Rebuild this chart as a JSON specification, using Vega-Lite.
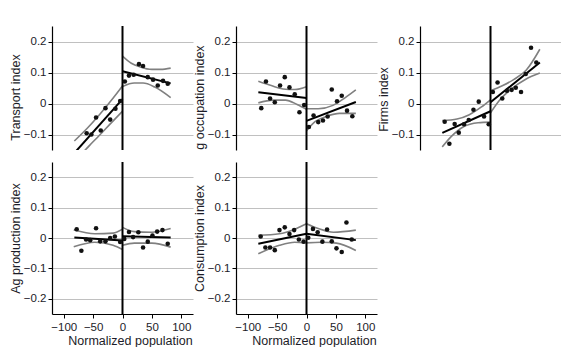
{
  "$schema": "https://vega.github.io/schema/vega-lite/v6.json",
  "padding": {"left": 9, "top": 25, "right": 0, "bottom": 0},
  "datasets": {
    "pts": [
      {"p": "P1", "x": -61, "y": -0.096}, {"p": "P1", "x": -53, "y": -0.100}, {"p": "P1", "x": -45, "y": -0.045}, {"p": "P1", "x": -37, "y": -0.087}, {"p": "P1", "x": -29, "y": -0.015}, {"p": "P1", "x": -21, "y": -0.052}, {"p": "P1", "x": -12, "y": -0.017}, {"p": "P1", "x": -4, "y": 0.008},
      {"p": "P1", "x": 4, "y": 0.071}, {"p": "P1", "x": 11, "y": 0.090}, {"p": "P1", "x": 19, "y": 0.093}, {"p": "P1", "x": 28, "y": 0.127}, {"p": "P1", "x": 35, "y": 0.121}, {"p": "P1", "x": 43, "y": 0.085}, {"p": "P1", "x": 52, "y": 0.077}, {"p": "P1", "x": 60, "y": 0.058}, {"p": "P1", "x": 69, "y": 0.073}, {"p": "P1", "x": 77, "y": 0.064},
      {"p": "P2", "x": -77, "y": -0.015}, {"p": "P2", "x": -69, "y": 0.071}, {"p": "P2", "x": -62, "y": 0.016}, {"p": "P2", "x": -54, "y": 0.004}, {"p": "P2", "x": -45, "y": 0.058}, {"p": "P2", "x": -37, "y": 0.085}, {"p": "P2", "x": -29, "y": 0.052}, {"p": "P2", "x": -20, "y": 0.030}, {"p": "P2", "x": -12, "y": -0.028}, {"p": "P2", "x": -4, "y": -0.005},
      {"p": "P2", "x": 4, "y": -0.076}, {"p": "P2", "x": 12, "y": -0.039}, {"p": "P2", "x": 20, "y": -0.060}, {"p": "P2", "x": 28, "y": -0.055}, {"p": "P2", "x": 36, "y": -0.042}, {"p": "P2", "x": 43, "y": 0.045}, {"p": "P2", "x": 52, "y": 0.007}, {"p": "P2", "x": 60, "y": 0.025}, {"p": "P2", "x": 69, "y": -0.023}, {"p": "P2", "x": 78, "y": -0.041},
      {"p": "P3", "x": -78, "y": -0.059}, {"p": "P3", "x": -70, "y": -0.130}, {"p": "P3", "x": -61, "y": -0.066}, {"p": "P3", "x": -54, "y": -0.094}, {"p": "P3", "x": -45, "y": -0.067}, {"p": "P3", "x": -37, "y": -0.053}, {"p": "P3", "x": -29, "y": -0.020}, {"p": "P3", "x": -20, "y": 0.006}, {"p": "P3", "x": -11, "y": -0.042}, {"p": "P3", "x": -3, "y": -0.067},
      {"p": "P3", "x": 4, "y": 0.037}, {"p": "P3", "x": 12, "y": 0.068}, {"p": "P3", "x": 20, "y": 0.016}, {"p": "P3", "x": 28, "y": 0.041}, {"p": "P3", "x": 36, "y": 0.044}, {"p": "P3", "x": 43, "y": 0.051}, {"p": "P3", "x": 52, "y": 0.037}, {"p": "P3", "x": 60, "y": 0.095}, {"p": "P3", "x": 69, "y": 0.180}, {"p": "P3", "x": 78, "y": 0.132},
      {"p": "P4", "x": -78, "y": 0.029}, {"p": "P4", "x": -70, "y": -0.042}, {"p": "P4", "x": -62, "y": -0.005}, {"p": "P4", "x": -55, "y": -0.007}, {"p": "P4", "x": -45, "y": 0.032}, {"p": "P4", "x": -38, "y": -0.011}, {"p": "P4", "x": -29, "y": -0.011}, {"p": "P4", "x": -21, "y": 0.0}, {"p": "P4", "x": -13, "y": 0.005}, {"p": "P4", "x": -4, "y": -0.013},
      {"p": "P4", "x": 3, "y": -0.003}, {"p": "P4", "x": 11, "y": 0.020}, {"p": "P4", "x": 18, "y": 0.003}, {"p": "P4", "x": 27, "y": 0.019}, {"p": "P4", "x": 35, "y": -0.031}, {"p": "P4", "x": 43, "y": -0.012}, {"p": "P4", "x": 51, "y": 0.008}, {"p": "P4", "x": 59, "y": 0.021}, {"p": "P4", "x": 68, "y": 0.026}, {"p": "P4", "x": 77, "y": -0.019},
      {"p": "P5", "x": -78, "y": 0.005}, {"p": "P5", "x": -70, "y": -0.031}, {"p": "P5", "x": -62, "y": -0.031}, {"p": "P5", "x": -54, "y": -0.040}, {"p": "P5", "x": -46, "y": 0.026}, {"p": "P5", "x": -37, "y": 0.035}, {"p": "P5", "x": -29, "y": 0.013}, {"p": "P5", "x": -21, "y": 0.026}, {"p": "P5", "x": -13, "y": -0.005}, {"p": "P5", "x": -5, "y": -0.012},
      {"p": "P5", "x": 3, "y": 0.001}, {"p": "P5", "x": 11, "y": 0.030}, {"p": "P5", "x": 19, "y": 0.019}, {"p": "P5", "x": 27, "y": -0.012}, {"p": "P5", "x": 35, "y": 0.028}, {"p": "P5", "x": 43, "y": -0.011}, {"p": "P5", "x": 51, "y": -0.034}, {"p": "P5", "x": 60, "y": -0.046}, {"p": "P5", "x": 68, "y": 0.051}, {"p": "P5", "x": 77, "y": -0.005}
    ],
    "fit": [
      {"p": "P1", "g": "L", "x": -82, "y": -0.160}, {"p": "P1", "g": "L", "x": 0, "y": 0.014},
      {"p": "P1", "g": "R", "x": 0, "y": 0.104}, {"p": "P1", "g": "R", "x": 82, "y": 0.065},
      {"p": "P2", "g": "L", "x": -82, "y": 0.036}, {"p": "P2", "g": "L", "x": 0, "y": 0.018},
      {"p": "P2", "g": "R", "x": 0, "y": -0.056}, {"p": "P2", "g": "R", "x": 84, "y": 0.005},
      {"p": "P3", "g": "L", "x": -82, "y": -0.095}, {"p": "P3", "g": "L", "x": 0, "y": -0.025},
      {"p": "P3", "g": "R", "x": 0, "y": 0.004}, {"p": "P3", "g": "R", "x": 84, "y": 0.132},
      {"p": "P4", "g": "L", "x": -82, "y": 0.002}, {"p": "P4", "g": "L", "x": 0, "y": -0.008},
      {"p": "P4", "g": "R", "x": 0, "y": 0.006}, {"p": "P4", "g": "R", "x": 82, "y": 0.002},
      {"p": "P5", "g": "L", "x": -82, "y": -0.019}, {"p": "P5", "g": "L", "x": 0, "y": 0.014},
      {"p": "P5", "g": "R", "x": 0, "y": 0.014}, {"p": "P5", "g": "R", "x": 84, "y": -0.007}
    ],
    "ci": [
      {"p": "P1", "g": "LU", "x": -82, "y": -0.121}, {"p": "P1", "g": "LU", "x": -60, "y": -0.080}, {"p": "P1", "g": "LU", "x": -40, "y": -0.038}, {"p": "P1", "g": "LU", "x": -20, "y": 0.008}, {"p": "P1", "g": "LU", "x": 0, "y": 0.057},
      {"p": "P1", "g": "LL", "x": -82, "y": -0.188}, {"p": "P1", "g": "LL", "x": -56, "y": -0.135}, {"p": "P1", "g": "LL", "x": -40, "y": -0.104}, {"p": "P1", "g": "LL", "x": -20, "y": -0.064}, {"p": "P1", "g": "LL", "x": 0, "y": -0.025},
      {"p": "P1", "g": "RU", "x": 0, "y": 0.153}, {"p": "P1", "g": "RU", "x": 15, "y": 0.130}, {"p": "P1", "g": "RU", "x": 30, "y": 0.118}, {"p": "P1", "g": "RU", "x": 50, "y": 0.110}, {"p": "P1", "g": "RU", "x": 65, "y": 0.110}, {"p": "P1", "g": "RU", "x": 82, "y": 0.114},
      {"p": "P1", "g": "RL", "x": 0, "y": 0.055}, {"p": "P1", "g": "RL", "x": 20, "y": 0.066}, {"p": "P1", "g": "RL", "x": 35, "y": 0.066}, {"p": "P1", "g": "RL", "x": 55, "y": 0.053}, {"p": "P1", "g": "RL", "x": 82, "y": 0.019},
      {"p": "P2", "g": "LU", "x": -82, "y": 0.072}, {"p": "P2", "g": "LU", "x": -60, "y": 0.058}, {"p": "P2", "g": "LU", "x": -40, "y": 0.047}, {"p": "P2", "g": "LU", "x": -20, "y": 0.045}, {"p": "P2", "g": "LU", "x": 0, "y": 0.054},
      {"p": "P2", "g": "LL", "x": -82, "y": 0.002}, {"p": "P2", "g": "LL", "x": -57, "y": 0.011}, {"p": "P2", "g": "LL", "x": -36, "y": 0.011}, {"p": "P2", "g": "LL", "x": -16, "y": -0.003}, {"p": "P2", "g": "LL", "x": 0, "y": -0.019},
      {"p": "P2", "g": "RU", "x": 0, "y": -0.017}, {"p": "P2", "g": "RU", "x": 20, "y": -0.017}, {"p": "P2", "g": "RU", "x": 45, "y": -0.006}, {"p": "P2", "g": "RU", "x": 66, "y": 0.019}, {"p": "P2", "g": "RU", "x": 84, "y": 0.044},
      {"p": "P2", "g": "RL", "x": 0, "y": -0.088}, {"p": "P2", "g": "RL", "x": 15, "y": -0.058}, {"p": "P2", "g": "RL", "x": 35, "y": -0.041}, {"p": "P2", "g": "RL", "x": 56, "y": -0.032}, {"p": "P2", "g": "RL", "x": 84, "y": -0.032},
      {"p": "P3", "g": "LU", "x": -82, "y": -0.055}, {"p": "P3", "g": "LU", "x": -57, "y": -0.050}, {"p": "P3", "g": "LU", "x": -36, "y": -0.036}, {"p": "P3", "g": "LU", "x": -16, "y": -0.012}, {"p": "P3", "g": "LU", "x": 0, "y": 0.012},
      {"p": "P3", "g": "LL", "x": -82, "y": -0.140}, {"p": "P3", "g": "LL", "x": -67, "y": -0.107}, {"p": "P3", "g": "LL", "x": -46, "y": -0.075}, {"p": "P3", "g": "LL", "x": -21, "y": -0.062}, {"p": "P3", "g": "LL", "x": 0, "y": -0.060},
      {"p": "P3", "g": "RU", "x": 0, "y": 0.041}, {"p": "P3", "g": "RU", "x": 20, "y": 0.057}, {"p": "P3", "g": "RU", "x": 40, "y": 0.078}, {"p": "P3", "g": "RU", "x": 61, "y": 0.108}, {"p": "P3", "g": "RU", "x": 84, "y": 0.175},
      {"p": "P3", "g": "RL", "x": 0, "y": -0.030}, {"p": "P3", "g": "RL", "x": 15, "y": 0.010}, {"p": "P3", "g": "RL", "x": 35, "y": 0.046}, {"p": "P3", "g": "RL", "x": 60, "y": 0.078}, {"p": "P3", "g": "RL", "x": 84, "y": 0.098},
      {"p": "P4", "g": "LU", "x": -83, "y": 0.026}, {"p": "P4", "g": "LU", "x": -47, "y": 0.014}, {"p": "P4", "g": "LU", "x": -16, "y": 0.016}, {"p": "P4", "g": "LU", "x": 0, "y": 0.029},
      {"p": "P4", "g": "LL", "x": -83, "y": -0.029}, {"p": "P4", "g": "LL", "x": -47, "y": -0.014}, {"p": "P4", "g": "LL", "x": -16, "y": -0.024}, {"p": "P4", "g": "LL", "x": 0, "y": -0.038},
      {"p": "P4", "g": "RU", "x": 0, "y": 0.035}, {"p": "P4", "g": "RU", "x": 20, "y": 0.021}, {"p": "P4", "g": "RU", "x": 50, "y": 0.019}, {"p": "P4", "g": "RU", "x": 82, "y": 0.031},
      {"p": "P4", "g": "RL", "x": 0, "y": -0.024}, {"p": "P4", "g": "RL", "x": 20, "y": -0.017}, {"p": "P4", "g": "RL", "x": 50, "y": -0.017}, {"p": "P4", "g": "RL", "x": 82, "y": -0.030},
      {"p": "P5", "g": "LU", "x": -82, "y": 0.009}, {"p": "P5", "g": "LU", "x": -46, "y": 0.014}, {"p": "P5", "g": "LU", "x": -20, "y": 0.029}, {"p": "P5", "g": "LU", "x": 0, "y": 0.047},
      {"p": "P5", "g": "LL", "x": -82, "y": -0.052}, {"p": "P5", "g": "LL", "x": -46, "y": -0.024}, {"p": "P5", "g": "LL", "x": -20, "y": -0.014}, {"p": "P5", "g": "LL", "x": 0, "y": -0.016},
      {"p": "P5", "g": "RU", "x": 0, "y": 0.047}, {"p": "P5", "g": "RU", "x": 20, "y": 0.031}, {"p": "P5", "g": "RU", "x": 46, "y": 0.019}, {"p": "P5", "g": "RU", "x": 84, "y": 0.026},
      {"p": "P5", "g": "RL", "x": 0, "y": -0.016}, {"p": "P5", "g": "RL", "x": 25, "y": -0.014}, {"p": "P5", "g": "RL", "x": 51, "y": -0.017}, {"p": "P5", "g": "RL", "x": 84, "y": -0.041}
    ]
  },
  "vconcat": [
    {
      "spacing": 0,
      "hconcat": [
        {
          "width": 141, "height": 124,
          "layer": [
            {"data": {"name": "ci"}, "transform": [{"filter": "datum.p == 'P1'"}],
             "mark": {"type": "line", "color": "#808080", "strokeWidth": 1.6, "interpolate": "monotone", "clip": true},
             "encoding": {
               "x": {"field": "x", "type": "quantitative", "scale": {"domain": [-108, 108]}, "axis": null},
               "y": {"field": "y", "type": "quantitative", "scale": {"domain": [-0.135, 0.22]}, "axis": {"title": "Transport index", "values": [-0.1, 0, 0.1, 0.2], "tickCount": 10, "format": ".1~f", "titleY": 71}},
               "detail": {"field": "g"}}},
            {"data": {"name": "fit"}, "transform": [{"filter": "datum.p == 'P1'"}],
             "mark": {"type": "line", "color": "#000", "strokeWidth": 2, "clip": true},
             "encoding": {
               "x": {"field": "x", "type": "quantitative", "axis": null},
               "y": {"field": "y", "type": "quantitative"},
               "detail": {"field": "g"}}},
            {"data": {"values": [{}]},
             "mark": {"type": "rule", "color": "#000", "strokeWidth": 2},
             "encoding": {"x": {"datum": 0, "axis": null}}},
            {"data": {"name": "pts"}, "transform": [{"filter": "datum.p == 'P1'"}],
             "mark": {"type": "circle", "color": "#111", "opacity": 1, "size": 21, "clip": true},
             "encoding": {
               "x": {"field": "x", "type": "quantitative", "axis": null},
               "y": {"field": "y", "type": "quantitative"}}}
          ]
        },
        {
          "width": 141, "height": 124,
          "layer": [
            {"data": {"name": "ci"}, "transform": [{"filter": "datum.p == 'P2'"}],
             "mark": {"type": "line", "color": "#808080", "strokeWidth": 1.6, "interpolate": "monotone", "clip": true},
             "encoding": {
               "x": {"field": "x", "type": "quantitative", "scale": {"domain": [-108, 108]}, "axis": null},
               "y": {"field": "y", "type": "quantitative", "scale": {"domain": [-0.135, 0.22]}, "axis": {"title": "g occupation index", "values": [-0.1, 0, 0.1, 0.2], "tickCount": 10, "format": ".1~f", "titleY": 71}},
               "detail": {"field": "g"}}},
            {"data": {"name": "fit"}, "transform": [{"filter": "datum.p == 'P2'"}],
             "mark": {"type": "line", "color": "#000", "strokeWidth": 2, "clip": true},
             "encoding": {
               "x": {"field": "x", "type": "quantitative", "axis": null},
               "y": {"field": "y", "type": "quantitative"},
               "detail": {"field": "g"}}},
            {"data": {"values": [{}]},
             "mark": {"type": "rule", "color": "#000", "strokeWidth": 2},
             "encoding": {"x": {"datum": 0, "axis": null}}},
            {"data": {"name": "pts"}, "transform": [{"filter": "datum.p == 'P2'"}],
             "mark": {"type": "circle", "color": "#111", "opacity": 1, "size": 21, "clip": true},
             "encoding": {
               "x": {"field": "x", "type": "quantitative", "axis": null},
               "y": {"field": "y", "type": "quantitative"}}}
          ]
        },
        {
          "width": 141, "height": 124,
          "layer": [
            {"data": {"name": "ci"}, "transform": [{"filter": "datum.p == 'P3'"}],
             "mark": {"type": "line", "color": "#808080", "strokeWidth": 1.6, "interpolate": "monotone", "clip": true},
             "encoding": {
               "x": {"field": "x", "type": "quantitative", "scale": {"domain": [-108, 108]}, "axis": null},
               "y": {"field": "y", "type": "quantitative", "scale": {"domain": [-0.135, 0.22]}, "axis": {"title": "Firms index", "values": [-0.1, 0, 0.1, 0.2], "tickCount": 10, "format": ".1~f", "titleY": 73}},
               "detail": {"field": "g"}}},
            {"data": {"name": "fit"}, "transform": [{"filter": "datum.p == 'P3'"}],
             "mark": {"type": "line", "color": "#000", "strokeWidth": 2, "clip": true},
             "encoding": {
               "x": {"field": "x", "type": "quantitative", "axis": null},
               "y": {"field": "y", "type": "quantitative"},
               "detail": {"field": "g"}}},
            {"data": {"values": [{}]},
             "mark": {"type": "rule", "color": "#000", "strokeWidth": 2},
             "encoding": {"x": {"datum": 0, "axis": null}}},
            {"data": {"name": "pts"}, "transform": [{"filter": "datum.p == 'P3'"}],
             "mark": {"type": "circle", "color": "#111", "opacity": 1, "size": 21, "clip": true},
             "encoding": {
               "x": {"field": "x", "type": "quantitative", "axis": null},
               "y": {"field": "y", "type": "quantitative"}}}
          ]
        }
      ]
    },
    {
      "spacing": 0,
      "hconcat": [
        {
          "width": 141, "height": 152,
          "layer": [
            {"data": {"name": "ci"}, "transform": [{"filter": "datum.p == 'P4'"}],
             "mark": {"type": "line", "color": "#808080", "strokeWidth": 1.6, "interpolate": "monotone", "clip": true},
             "encoding": {
               "x": {"field": "x", "type": "quantitative", "scale": {"domain": [-108, 108]}, "axis": {"title": "Normalized population", "values": [-100, -50, 0, 50, 100], "tickCount": 10, "titleX": 78}},
               "y": {"field": "y", "type": "quantitative", "scale": {"domain": [-0.218, 0.218]}, "axis": {"title": "Ag production index", "values": [-0.2, -0.1, 0, 0.1, 0.2], "tickCount": 10, "format": ".1~f"}},
               "detail": {"field": "g"}}},
            {"data": {"name": "fit"}, "transform": [{"filter": "datum.p == 'P4'"}],
             "mark": {"type": "line", "color": "#000", "strokeWidth": 2, "clip": true},
             "encoding": {
               "x": {"field": "x", "type": "quantitative"},
               "y": {"field": "y", "type": "quantitative"},
               "detail": {"field": "g"}}},
            {"data": {"values": [{}]},
             "mark": {"type": "rule", "color": "#000", "strokeWidth": 2},
             "encoding": {"x": {"datum": 0}}},
            {"data": {"name": "pts"}, "transform": [{"filter": "datum.p == 'P4'"}],
             "mark": {"type": "circle", "color": "#111", "opacity": 1, "size": 21, "clip": true},
             "encoding": {
               "x": {"field": "x", "type": "quantitative"},
               "y": {"field": "y", "type": "quantitative"}}}
          ]
        },
        {
          "width": 141, "height": 152,
          "layer": [
            {"data": {"name": "ci"}, "transform": [{"filter": "datum.p == 'P5'"}],
             "mark": {"type": "line", "color": "#808080", "strokeWidth": 1.6, "interpolate": "monotone", "clip": true},
             "encoding": {
               "x": {"field": "x", "type": "quantitative", "scale": {"domain": [-108, 108]}, "axis": {"title": "Normalized population", "values": [-100, -50, 0, 50, 100], "tickCount": 10, "titleX": 78}},
               "y": {"field": "y", "type": "quantitative", "scale": {"domain": [-0.218, 0.218]}, "axis": {"title": "Consumption index", "values": [-0.2, -0.1, 0, 0.1, 0.2], "tickCount": 10, "format": ".1~f"}},
               "detail": {"field": "g"}}},
            {"data": {"name": "fit"}, "transform": [{"filter": "datum.p == 'P5'"}],
             "mark": {"type": "line", "color": "#000", "strokeWidth": 2, "clip": true},
             "encoding": {
               "x": {"field": "x", "type": "quantitative"},
               "y": {"field": "y", "type": "quantitative"},
               "detail": {"field": "g"}}},
            {"data": {"values": [{}]},
             "mark": {"type": "rule", "color": "#000", "strokeWidth": 2},
             "encoding": {"x": {"datum": 0}}},
            {"data": {"name": "pts"}, "transform": [{"filter": "datum.p == 'P5'"}],
             "mark": {"type": "circle", "color": "#111", "opacity": 1, "size": 21, "clip": true},
             "encoding": {
               "x": {"field": "x", "type": "quantitative"},
               "y": {"field": "y", "type": "quantitative"}}}
          ]
        }
      ]
    }
  ],
  "spacing": 10,
  "config": {
    "view": {"stroke": null},
    "font": "Liberation Sans",
    "axis": {
      "labelFont": "Liberation Sans", "labelFontSize": 11.5, "labelColor": "#1c1c28",
      "titleFont": "Liberation Sans", "titleFontSize": 12.5, "titleFontWeight": "normal", "titleColor": "#1c1c28",
      "domainColor": "#000", "domainWidth": 1.2, "tickColor": "#000", "tickSize": 4, "tickWidth": 1,
      "gridColor": "#c0c0c0", "gridWidth": 1, "labelPadding": 2, "titlePadding": 1
    },
    "axisX": {"grid": false, "titlePadding": 2, "labelPadding": 3},
    "axisY": {"grid": true}
  }
}
